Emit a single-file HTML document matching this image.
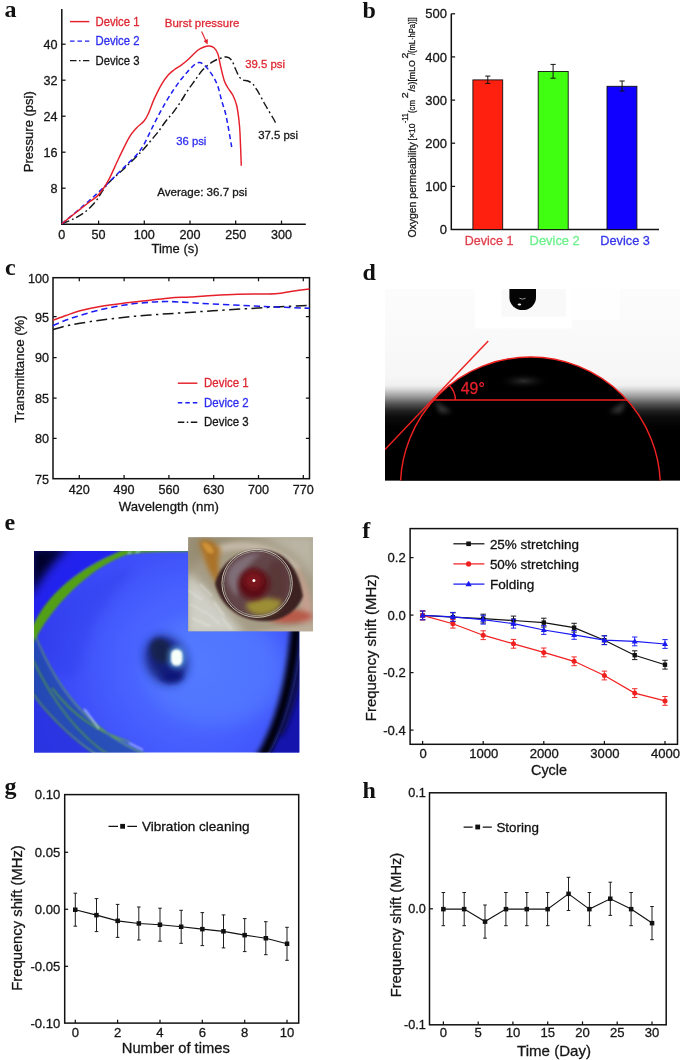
<!DOCTYPE html>
<html lang="en"><head><meta charset="utf-8"><title>Figure</title>
<style>html,body{margin:0;padding:0;background:#fff}svg{display:block}svg text{font-family:"Liberation Sans", sans-serif}svg text.pl{font-family:"Liberation Serif", serif;font-weight:bold;font-size:24px;fill:#111}</style></head><body>
<svg width="685" height="1060" viewBox="0 0 685 1060">
<rect width="685" height="1060" fill="#fff"/>
<defs>
<filter id="b1" x="-20%" y="-20%" width="140%" height="140%"><feGaussianBlur stdDeviation="1"/></filter>
<filter id="b2" x="-30%" y="-30%" width="160%" height="160%"><feGaussianBlur stdDeviation="2.5"/></filter>
<filter id="b4" x="-30%" y="-30%" width="160%" height="160%"><feGaussianBlur stdDeviation="5"/></filter>
<filter id="b8" x="-50%" y="-50%" width="200%" height="200%"><feGaussianBlur stdDeviation="9"/></filter>
<linearGradient id="dgrad" x1="0" y1="0" x2="0" y2="1"><stop offset="0" stop-color="#fcfcfc"/><stop offset="0.3" stop-color="#f9f9f9"/><stop offset="0.46" stop-color="#f6f6f6"/><stop offset="0.503" stop-color="#f0f0f0"/><stop offset="0.522" stop-color="#dadada"/><stop offset="0.563" stop-color="#989898"/><stop offset="0.60" stop-color="#545454"/><stop offset="0.636" stop-color="#222"/><stop offset="0.668" stop-color="#0c0c0c"/><stop offset="0.72" stop-color="#020202"/><stop offset="1" stop-color="#000"/></linearGradient>
<radialGradient id="glow" cx="0.5" cy="0.5" r="0.5"><stop offset="0" stop-color="#2e2e2e"/><stop offset="1" stop-color="#000" stop-opacity="0"/></radialGradient>
<clipPath id="dclip"><rect x="385" y="289" width="295" height="191.5"/></clipPath>
<clipPath id="eclip"><rect x="34" y="551" width="265.3" height="201.6"/></clipPath>
<clipPath id="iclip"><rect x="188.2" y="537.2" width="124.7" height="94"/></clipPath>
<radialGradient id="eyebg" gradientUnits="userSpaceOnUse" cx="195" cy="665" r="175"><stop offset="0" stop-color="#5072ff"/><stop offset="0.4" stop-color="#4862ff"/><stop offset="0.75" stop-color="#3c4cf8"/><stop offset="1" stop-color="#2e36ea"/></radialGradient>
</defs>
<text x="4.5" y="17" class="pl">a</text>
<path d="M61.8,9 V224.2 H305.8" fill="none" stroke="#111" stroke-width="1.5"/>
<path d="M61.8,188.2 h3.8" stroke="#111" stroke-width="1.25"/>
<text x="57.5" y="192.6" font-size="12.6" fill="#161616" stroke="#161616" stroke-width="0.3" text-anchor="end" >8</text>
<path d="M61.8,152.2 h3.8" stroke="#111" stroke-width="1.25"/>
<text x="57.5" y="156.6" font-size="12.6" fill="#161616" stroke="#161616" stroke-width="0.3" text-anchor="end" >16</text>
<path d="M61.8,116.2 h3.8" stroke="#111" stroke-width="1.25"/>
<text x="57.5" y="120.6" font-size="12.6" fill="#161616" stroke="#161616" stroke-width="0.3" text-anchor="end" >24</text>
<path d="M61.8,80.2 h3.8" stroke="#111" stroke-width="1.25"/>
<text x="57.5" y="84.6" font-size="12.6" fill="#161616" stroke="#161616" stroke-width="0.3" text-anchor="end" >32</text>
<path d="M61.8,44.2 h3.8" stroke="#111" stroke-width="1.25"/>
<text x="57.5" y="48.59999999999999" font-size="12.6" fill="#161616" stroke="#161616" stroke-width="0.3" text-anchor="end" >40</text>
<text x="61.8" y="238.8" font-size="12.6" fill="#161616" stroke="#161616" stroke-width="0.3" text-anchor="middle" >0</text>
<path d="M98.6,224.2 v-3.6" stroke="#111" stroke-width="1.25"/>
<text x="98.6" y="238.8" font-size="12.6" fill="#161616" stroke="#161616" stroke-width="0.3" text-anchor="middle" >50</text>
<path d="M144.3,224.2 v-3.6" stroke="#111" stroke-width="1.25"/>
<text x="144.3" y="238.8" font-size="12.6" fill="#161616" stroke="#161616" stroke-width="0.3" text-anchor="middle" >100</text>
<path d="M190.0,224.2 v-3.6" stroke="#111" stroke-width="1.25"/>
<text x="190.0" y="238.8" font-size="12.6" fill="#161616" stroke="#161616" stroke-width="0.3" text-anchor="middle" >200</text>
<path d="M235.7,224.2 v-3.6" stroke="#111" stroke-width="1.25"/>
<text x="235.7" y="238.8" font-size="12.6" fill="#161616" stroke="#161616" stroke-width="0.3" text-anchor="middle" >250</text>
<path d="M281.5,224.2 v-3.6" stroke="#111" stroke-width="1.25"/>
<text x="281.5" y="238.8" font-size="12.6" fill="#161616" stroke="#161616" stroke-width="0.3" text-anchor="middle" >300</text>
<text x="175" y="253" font-size="13.3" fill="#161616" stroke="#161616" stroke-width="0.3" text-anchor="middle" textLength="47" lengthAdjust="spacingAndGlyphs" >Time (s)</text>
<text transform="translate(32.6 131.7) rotate(-90)" font-size="13.3" fill="#161616" stroke="#161616" stroke-width="0.3" text-anchor="middle" textLength="81" lengthAdjust="spacingAndGlyphs">Pressure (psi)</text>
<path d="M61.8,223.8 C63.6,223.0 69.0,221.2 72.9,219.2 C76.8,217.2 81.6,214.6 85.4,211.7 C89.2,208.8 93.0,204.6 95.5,201.7 C98.0,198.8 98.8,196.5 100.5,194.0 C102.2,191.5 103.6,189.0 105.5,186.6 C107.4,184.2 108.5,182.8 111.7,179.7 C114.9,176.6 120.7,171.9 124.8,168.0 C128.9,164.1 133.3,159.6 136.5,156.4 C139.7,153.2 141.4,151.7 143.8,149.0 C146.2,146.3 148.7,143.2 151.1,140.3 C153.5,137.4 156.0,134.7 158.4,131.5 C160.8,128.3 163.3,124.5 165.7,121.3 C168.1,118.1 170.6,115.8 173.0,112.6 C175.4,109.4 177.9,105.9 180.3,102.3 C182.7,98.7 185.2,94.3 187.6,90.7 C190.0,87.1 192.4,83.9 194.9,80.4 C197.4,76.9 199.8,72.9 202.8,69.8 C205.8,66.7 210.0,63.5 212.9,61.6 C215.8,59.7 218.1,59.1 220.4,58.3 C222.7,57.5 224.8,56.7 226.7,57.0 C228.6,57.3 230.2,58.3 231.7,60.3 C233.2,62.3 234.2,66.3 235.5,69.0 C236.8,71.7 237.9,74.8 239.2,76.6 C240.4,78.4 241.5,79.3 243.0,80.0 C244.5,80.7 246.3,80.3 248.0,81.0 C249.7,81.7 251.3,82.4 253.0,84.2 C254.7,86.0 255.9,88.2 258.0,91.7 C260.1,95.2 263.1,101.1 265.6,105.5 C268.1,109.9 271.3,115.1 273.0,118.0 C274.7,120.9 275.2,122.2 275.7,123.0" fill="none" stroke="#161616" stroke-width="1.45" stroke-dasharray="8 3 1.8 3"/>
<path d="M61.8,223.8 C64.1,221.9 71.0,216.2 75.4,212.5 C79.8,208.8 83.8,205.4 88.0,201.7 C92.2,198.0 96.3,194.3 100.5,190.4 C104.7,186.5 109.0,182.2 113.1,178.2 C117.1,174.2 120.9,170.5 124.8,166.6 C128.7,162.7 133.3,158.6 136.5,154.9 C139.7,151.2 141.4,148.8 143.8,144.7 C146.2,140.5 148.7,134.9 151.1,130.0 C153.5,125.1 156.0,120.1 158.4,115.5 C160.8,110.9 163.3,106.4 165.7,102.3 C168.1,98.2 170.6,94.3 173.0,90.7 C175.4,87.1 177.9,83.6 180.3,80.4 C182.7,77.2 185.2,74.4 187.6,71.7 C190.0,69.0 192.9,65.9 194.9,64.4 C196.9,62.9 198.0,62.5 199.5,62.6 C201.0,62.7 202.4,63.5 204.0,64.8 C205.6,66.1 207.3,68.2 209.0,70.4 C210.7,72.6 212.5,75.3 214.0,78.0 C215.5,80.7 216.7,83.0 218.0,86.7 C219.3,90.5 220.4,96.1 221.6,100.5 C222.8,104.9 224.3,108.4 225.4,113.0 C226.5,117.6 227.4,122.3 228.4,128.0 C229.4,133.7 231.1,143.8 231.7,147.0" fill="none" stroke="#1c1cf5" stroke-width="1.5" stroke-dasharray="5 3.2"/>
<path d="M61.8,223.8 C64.1,222.0 71.0,216.5 75.4,213.0 C79.8,209.5 84.5,205.7 88.0,203.0 C91.5,200.3 94.2,198.9 96.7,196.6 C99.2,194.3 101.0,191.8 103.0,189.0 C105.0,186.2 106.1,184.9 108.8,179.7 C111.5,174.5 115.6,164.9 119.0,157.8 C122.4,150.8 126.3,142.4 129.2,137.4 C132.1,132.4 134.1,130.6 136.5,127.9 C138.9,125.2 141.9,123.6 143.8,121.3 C145.8,119.0 146.5,117.7 148.2,114.0 C149.9,110.3 151.8,104.3 154.0,99.4 C156.2,94.5 158.9,88.9 161.3,84.8 C163.7,80.7 166.4,77.1 168.6,74.6 C170.8,72.0 172.6,71.0 174.5,69.5 C176.4,68.0 178.1,67.4 180.3,65.8 C182.5,64.2 184.7,62.6 187.6,60.0 C190.5,57.4 195.1,52.5 197.8,50.3 C200.5,48.1 202.1,47.7 204.0,47.0 C205.9,46.3 207.3,45.9 209.0,46.0 C210.7,46.1 212.5,46.4 214.0,47.7 C215.5,49.0 216.8,51.1 217.9,54.0 C219.0,56.9 219.4,60.9 220.4,65.3 C221.4,69.7 222.9,76.6 224.2,80.4 C225.5,84.2 226.5,85.5 228.0,88.0 C229.5,90.5 231.6,92.6 233.0,95.5 C234.4,98.4 235.8,101.8 236.7,105.5 C237.6,109.2 238.1,113.4 238.7,118.0 C239.2,122.6 239.6,125.0 240.0,133.0 C240.4,140.9 241.1,160.2 241.3,165.7" fill="none" stroke="#e5202b" stroke-width="1.45"/>
<path d="M70,21.6 H89.3" stroke="#e5202b" stroke-width="1.45"/>
<text x="95.5" y="25.8" font-size="11.9" fill="#de2833" stroke="#de2833" stroke-width="0.3" text-anchor="start" textLength="44" lengthAdjust="spacingAndGlyphs" >Device 1</text>
<path d="M70,41.1 H89.3" stroke="#1c1cf5" stroke-width="1.45" stroke-dasharray="4.5 3"/>
<text x="95.5" y="45.300000000000004" font-size="11.9" fill="#2e2ef0" stroke="#2e2ef0" stroke-width="0.3" text-anchor="start" textLength="44" lengthAdjust="spacingAndGlyphs" >Device 2</text>
<path d="M70,60.6 H89.3" stroke="#161616" stroke-width="1.45" stroke-dasharray="6.5 2.5 1.5 2.5"/>
<text x="95.5" y="64.8" font-size="11.9" fill="#161616" stroke="#161616" stroke-width="0.3" text-anchor="start" textLength="44" lengthAdjust="spacingAndGlyphs" >Device 3</text>
<text x="164.8" y="27.2" font-size="11.7" fill="#de2833" stroke="#de2833" stroke-width="0.3" text-anchor="start" textLength="74.6" lengthAdjust="spacingAndGlyphs" >Burst pressure</text>
<path d="M201.6,31.4 L206.6,42.4" stroke="#e5202b" stroke-width="1.1"/>
<path d="M207.6,44.6 L203.6,40.9 L207.9,38.9 Z" fill="#e5202b"/>
<text x="245.2" y="68.4" font-size="11.7" fill="#de2833" stroke="#de2833" stroke-width="0.3" text-anchor="start" textLength="39.8" lengthAdjust="spacingAndGlyphs" >39.5 psi</text>
<text x="176.2" y="144.5" font-size="11.7" fill="#2e2ef0" stroke="#2e2ef0" stroke-width="0.3" text-anchor="start" textLength="30.2" lengthAdjust="spacingAndGlyphs" >36 psi</text>
<text x="258.2" y="139.4" font-size="11.7" fill="#161616" stroke="#161616" stroke-width="0.3" text-anchor="start" textLength="39.8" lengthAdjust="spacingAndGlyphs" >37.5 psi</text>
<text x="157.2" y="196" font-size="11.7" fill="#161616" stroke="#161616" stroke-width="0.3" text-anchor="start" textLength="90" lengthAdjust="spacingAndGlyphs" >Average: 36.7 psi</text>
<text x="362.5" y="18" class="pl">b</text>
<path d="M451.3,13.8 V229.5 H659" fill="none" stroke="#111" stroke-width="1.5"/>
<text x="447" y="234.1" font-size="13" fill="#161616" stroke="#161616" stroke-width="0.3" text-anchor="end" >0</text>
<path d="M451.3,186.4 h3.8" stroke="#111" stroke-width="1.25"/>
<text x="447" y="190.96" font-size="13" fill="#161616" stroke="#161616" stroke-width="0.3" text-anchor="end" >100</text>
<path d="M451.3,143.2 h3.8" stroke="#111" stroke-width="1.25"/>
<text x="447" y="147.82" font-size="13" fill="#161616" stroke="#161616" stroke-width="0.3" text-anchor="end" >200</text>
<path d="M451.3,100.1 h3.8" stroke="#111" stroke-width="1.25"/>
<text x="447" y="104.67999999999998" font-size="13" fill="#161616" stroke="#161616" stroke-width="0.3" text-anchor="end" >300</text>
<path d="M451.3,56.9 h3.8" stroke="#111" stroke-width="1.25"/>
<text x="447" y="61.54" font-size="13" fill="#161616" stroke="#161616" stroke-width="0.3" text-anchor="end" >400</text>
<path d="M451.3,13.8 h3.8" stroke="#111" stroke-width="1.25"/>
<text x="447" y="18.400000000000013" font-size="13" fill="#161616" stroke="#161616" stroke-width="0.3" text-anchor="end" >500</text>
<rect x="472.9" y="79.9" width="29.8" height="149.6" fill="#ff2010" stroke="#111" stroke-width="0.9"/>
<path d="M487.8,76.1 V83.4 M485.2,76.1 h5.2 M485.2,83.4 h5.2" stroke="#111" stroke-width="1" fill="none"/>
<rect x="538.2" y="71.5" width="30.0" height="158.0" fill="#40ff10" stroke="#111" stroke-width="0.9"/>
<path d="M553.1,64.4 V78.2 M550.5,64.4 h5.2 M550.5,78.2 h5.2" stroke="#111" stroke-width="1" fill="none"/>
<rect x="607" y="86.3" width="29.9" height="143.2" fill="#1000ff" stroke="#111" stroke-width="0.9"/>
<path d="M622.1,81 V91 M619.5,81 h5.2 M619.5,91 h5.2" stroke="#111" stroke-width="1" fill="none"/>
<text x="464.8" y="244.9" font-size="13" fill="#e0404c" stroke="#e0404c" stroke-width="0.3" text-anchor="start" textLength="48.6" lengthAdjust="spacingAndGlyphs" >Device 1</text>
<text x="529.6" y="244.9" font-size="13" fill="#6cf08c" stroke="#6cf08c" stroke-width="0.3" text-anchor="start" textLength="50.2" lengthAdjust="spacingAndGlyphs" >Device 2</text>
<text x="600.3" y="244.9" font-size="13" fill="#3636ea" stroke="#3636ea" stroke-width="0.3" text-anchor="start" textLength="49.6" lengthAdjust="spacingAndGlyphs" >Device 3</text>
<text transform="translate(416.2 237.6) rotate(-90)" font-size="10.6" fill="#161616" stroke="#161616" stroke-width="0.25" textLength="95.3" lengthAdjust="spacingAndGlyphs">Oxygen permeability</text>
<text transform="translate(415.4 140.4) rotate(-90)" font-size="8.2" fill="#161616" stroke="#161616" stroke-width="0.25" textLength="17.0" lengthAdjust="spacingAndGlyphs">[×10</text>
<text transform="translate(408.4 123.0) rotate(-90)" font-size="8.2" fill="#161616" stroke="#161616" stroke-width="0.25" textLength="9.6" lengthAdjust="spacingAndGlyphs">-11</text>
<text transform="translate(415.4 113.0) rotate(-90)" font-size="8.2" fill="#161616" stroke="#161616" stroke-width="0.25" textLength="12.8" lengthAdjust="spacingAndGlyphs">(cm</text>
<text transform="translate(408.4 98.2) rotate(-90)" font-size="8.2" fill="#161616" stroke="#161616" stroke-width="0.25" textLength="6.0" lengthAdjust="spacingAndGlyphs">2</text>
<text transform="translate(415.4 91.4) rotate(-90)" font-size="8.2" fill="#161616" stroke="#161616" stroke-width="0.25" textLength="31.4" lengthAdjust="spacingAndGlyphs">/s)[mLO</text>
<text transform="translate(408.4 58.4) rotate(-90)" font-size="8.2" fill="#161616" stroke="#161616" stroke-width="0.25" textLength="5.8" lengthAdjust="spacingAndGlyphs">2</text>
<text transform="translate(415.4 55.0) rotate(-90)" font-size="8.2" fill="#161616" stroke="#161616" stroke-width="0.25" textLength="37.6" lengthAdjust="spacingAndGlyphs">/(mL·hPa)]]</text>
<text x="5" y="275" class="pl">c</text>
<rect x="53" y="277.7" width="256.5" height="201.0" fill="none" stroke="#111" stroke-width="1.5"/>
<text x="49" y="282.7" font-size="12.6" fill="#161616" stroke="#161616" stroke-width="0.3" text-anchor="end" >100</text>
<path d="M53,316.6 h3.6 M309.5,316.6 h-3.6" stroke="#111" stroke-width="1.25"/>
<text x="49" y="321.5" font-size="12.6" fill="#161616" stroke="#161616" stroke-width="0.3" text-anchor="end" >95</text>
<path d="M53,357.5 h3.6 M309.5,357.5 h-3.6" stroke="#111" stroke-width="1.25"/>
<text x="49" y="362.4" font-size="12.6" fill="#161616" stroke="#161616" stroke-width="0.3" text-anchor="end" >90</text>
<path d="M53,398.0 h3.6 M309.5,398.0 h-3.6" stroke="#111" stroke-width="1.25"/>
<text x="49" y="402.9" font-size="12.6" fill="#161616" stroke="#161616" stroke-width="0.3" text-anchor="end" >85</text>
<path d="M53,438.3 h3.6 M309.5,438.3 h-3.6" stroke="#111" stroke-width="1.25"/>
<text x="49" y="443.2" font-size="12.6" fill="#161616" stroke="#161616" stroke-width="0.3" text-anchor="end" >80</text>
<text x="49" y="483.59999999999997" font-size="12.6" fill="#161616" stroke="#161616" stroke-width="0.3" text-anchor="end" >75</text>
<path d="M79.3,478.7 v-3.6 M79.3,277.7 v3.6" stroke="#111" stroke-width="1.25"/>
<text x="79.3" y="494.3" font-size="12.6" fill="#161616" stroke="#161616" stroke-width="0.3" text-anchor="middle" >420</text>
<path d="M124.1,478.7 v-3.6 M124.1,277.7 v3.6" stroke="#111" stroke-width="1.25"/>
<text x="124.1" y="494.3" font-size="12.6" fill="#161616" stroke="#161616" stroke-width="0.3" text-anchor="middle" >490</text>
<path d="M168.9,478.7 v-3.6 M168.9,277.7 v3.6" stroke="#111" stroke-width="1.25"/>
<text x="168.89999999999998" y="494.3" font-size="12.6" fill="#161616" stroke="#161616" stroke-width="0.3" text-anchor="middle" >560</text>
<path d="M213.7,478.7 v-3.6 M213.7,277.7 v3.6" stroke="#111" stroke-width="1.25"/>
<text x="213.7" y="494.3" font-size="12.6" fill="#161616" stroke="#161616" stroke-width="0.3" text-anchor="middle" >630</text>
<path d="M258.5,478.7 v-3.6 M258.5,277.7 v3.6" stroke="#111" stroke-width="1.25"/>
<text x="258.5" y="494.3" font-size="12.6" fill="#161616" stroke="#161616" stroke-width="0.3" text-anchor="middle" >700</text>
<path d="M303.3,478.7 v-3.6 M303.3,277.7 v3.6" stroke="#111" stroke-width="1.25"/>
<text x="303.3" y="494.3" font-size="12.6" fill="#161616" stroke="#161616" stroke-width="0.3" text-anchor="middle" >770</text>
<text x="168.8" y="510.5" font-size="13.4" fill="#161616" stroke="#161616" stroke-width="0.3" text-anchor="middle" textLength="100" lengthAdjust="spacingAndGlyphs" >Wavelength (nm)</text>
<text transform="translate(23.9 369) rotate(-90)" font-size="13.4" fill="#161616" stroke="#161616" stroke-width="0.3" text-anchor="middle" textLength="107.5" lengthAdjust="spacingAndGlyphs">Transmittance (%)</text>
<path d="M53.0,329.6 C55.2,329.0 61.5,327.1 66.0,326.0 C70.5,324.9 74.3,324.3 80.0,323.3 C85.7,322.3 92.5,321.2 100.0,320.2 C107.5,319.2 116.7,318.1 125.0,317.2 C133.3,316.3 141.7,315.6 150.0,315.0 C158.3,314.4 164.5,314.0 175.0,313.3 C185.5,312.6 200.2,311.6 212.8,310.8 C225.4,310.0 240.0,309.1 250.5,308.5 C261.0,307.9 265.8,307.5 275.6,307.0 C285.4,306.5 303.9,305.6 309.5,305.3" fill="none" stroke="#161616" stroke-width="1.5" stroke-dasharray="11 4.4 2.4 4.4"/>
<path d="M53.0,325.7 C55.2,324.8 61.5,321.7 66.0,320.0 C70.5,318.3 74.3,317.2 80.0,315.5 C85.7,313.8 92.5,311.6 100.0,309.8 C107.5,308.1 116.7,306.3 125.0,305.0 C133.3,303.7 142.5,302.8 150.0,302.2 C157.5,301.6 163.3,301.5 170.0,301.6 C176.7,301.7 182.9,302.2 190.0,302.6 C197.1,303.0 202.7,303.5 212.8,304.0 C222.9,304.5 240.0,305.3 250.5,305.8 C261.0,306.3 265.8,306.6 275.6,307.0 C285.4,307.4 303.9,308.1 309.5,308.3" fill="none" stroke="#1c1cf5" stroke-width="1.55" stroke-dasharray="6.4 3.8"/>
<path d="M53.0,320.3 C55.2,319.5 61.5,317.1 66.0,315.5 C70.5,313.9 74.3,312.3 80.0,310.8 C85.7,309.3 92.7,307.8 100.0,306.5 C107.3,305.2 115.3,304.2 123.6,303.2 C131.9,302.2 142.2,301.2 150.0,300.3 C157.8,299.4 163.4,298.4 170.1,297.9 C176.8,297.3 183.1,297.4 190.2,297.0 C197.3,296.6 204.8,295.9 212.8,295.4 C220.8,294.9 229.6,294.4 238.0,294.2 C246.4,294.0 256.3,294.1 263.0,294.0 C269.7,293.9 273.4,293.8 278.0,293.4 C282.6,293.0 285.4,292.1 290.7,291.4 C295.9,290.7 306.4,289.4 309.5,289.0" fill="none" stroke="#e5202b" stroke-width="1.5"/>
<path d="M177.8,383.2 H197.4" stroke="#e5202b" stroke-width="1.45"/>
<text x="204" y="387.4" font-size="12" fill="#de2833" stroke="#de2833" stroke-width="0.3" text-anchor="start" textLength="44.6" lengthAdjust="spacingAndGlyphs" >Device 1</text>
<path d="M177.8,402.7 H197.4" stroke="#1c1cf5" stroke-width="1.45" stroke-dasharray="4.5 3"/>
<text x="204" y="406.9" font-size="12" fill="#2e2ef0" stroke="#2e2ef0" stroke-width="0.3" text-anchor="start" textLength="44.6" lengthAdjust="spacingAndGlyphs" >Device 2</text>
<path d="M177.8,422.2 H197.4" stroke="#161616" stroke-width="1.45" stroke-dasharray="6.5 2.5 1.5 2.5"/>
<text x="204" y="426.4" font-size="12" fill="#161616" stroke="#161616" stroke-width="0.3" text-anchor="start" textLength="44.6" lengthAdjust="spacingAndGlyphs" >Device 3</text>
<text x="362.5" y="279.5" class="pl">d</text>
<g clip-path="url(#dclip)">
<rect x="385" y="289" width="295" height="191.5" fill="url(#dgrad)"/>
<rect x="474.7" y="289" width="97.3" height="39.4" fill="#fff"/>
<rect x="572" y="289" width="48" height="30.7" fill="#fefefe"/>
<rect x="501.5" y="289" width="64.3" height="27.7" fill="#f9f9f9"/>
<circle cx="530.4" cy="487" r="130" fill="#000"/>
<rect x="385" y="430" width="295" height="51" fill="#000"/>
<path d="M434.5,400.5 L452,412 L440,413 Z" fill="#555" filter="url(#b2)" opacity="0.7"/>
<path d="M626.5,400.5 L609,412 L621,413 Z" fill="#555" filter="url(#b2)" opacity="0.7"/>
<ellipse cx="523.5" cy="381" rx="27" ry="8.5" fill="url(#glow)"/>
<path d="M509.4,289 H536 V297.5 A13.3,12.6 0 0 1 509.4,297.5 Z" fill="#050505"/>
<path d="M519.5,298.2 q3,2 6,0" stroke="#bbb" stroke-width="0.8" fill="none"/>
<ellipse cx="519.4" cy="304.6" rx="1.8" ry="1" fill="#eee"/>
<circle cx="530.4" cy="487" r="130" fill="none" stroke="#ee2020" stroke-width="1.45"/>
<path d="M434.2,400 H627" stroke="#ee2020" stroke-width="1.45"/>
<path d="M385,449.5 L488.2,341" stroke="#ee2020" stroke-width="1.45"/>
<path d="M455.4,400 A21.2,21.2 0 0 0 448.8,384.7" fill="none" stroke="#ee2020" stroke-width="1.45"/>
</g>
<text x="460.8" y="393.8" font-size="16" fill="#e8212b" stroke="#e8212b" stroke-width="0.3" text-anchor="start" textLength="24" lengthAdjust="spacingAndGlyphs" >49°</text>
<text x="4.4" y="530.3" class="pl">e</text>
<g clip-path="url(#eclip)">
<rect x="30" y="547" width="274" height="210" fill="url(#eyebg)"/>
<ellipse cx="215" cy="670" rx="70" ry="55" fill="#5682ff" opacity="0.55" filter="url(#b8)"/>
<path d="M40,640 C60,600 95,575 135,566 C120,590 95,610 85,650 C75,690 60,690 40,640 Z" fill="#2c38e4" opacity="0.32" filter="url(#b4)"/>
<path d="M30,547 H196 C160,546 135,548 121,552 C80,564 50,592 30,640 Z" fill="#2222ee" filter="url(#b1)"/>
<path d="M30,547 H70 Q50,562 30,598 Z" fill="#04042c" filter="url(#b4)"/>
<path d="M32,628 C44,600 70,572 123,550 L194,548 L194,551.6 C165,551.2 142,551.8 127,554.6 C96,565 58,598 36.5,637 L32,646 Z" fill="#52a016" filter="url(#b1)"/>
<path d="M128,554 l3,-2.5 M136,552.5 l4,-2" stroke="#9ad8ff" stroke-width="1.6" filter="url(#b1)"/>
<path d="M306,585 C303,660 292,722 264,762 L306,762 Z" fill="#1515ae"/>
<path d="M297.5,590 C297,655 287,716 260,760" fill="none" stroke="#03030f" stroke-width="11" filter="url(#b2)"/>
<path d="M306,600 C304,660 296,700 280,735" fill="none" stroke="#0a0a40" stroke-width="7" filter="url(#b2)" opacity="0.8"/>
<path d="M30,628 C58,700 98,738 152,758 L104,758 C64,734 46,708 30,694 Z" fill="#1f4f90" opacity="0.62" filter="url(#b1)"/>
<path d="M30,690 C50,715 75,742 100,758 L30,758 Z" fill="#2a34e0" opacity="0.9"/>
<path d="M34,632 C60,700 100,737 152,757 M33,660 C58,712 84,740 112,757 M33,694 C52,720 78,744 102,758 M52,688 C70,712 96,732 130,742" fill="none" stroke="#60b028" stroke-width="1.3" opacity="0.85" filter="url(#b1)"/>
<path d="M84,709 C90,716 94,722 99,729 M129,743 l14,7" stroke="#eaf6ff" stroke-width="1.2" fill="none" filter="url(#b1)" opacity="0.85"/>
<ellipse cx="166" cy="660" rx="20" ry="25" fill="#17227c" filter="url(#b4)" transform="rotate(-25 166 660)"/>
<ellipse cx="161" cy="651" rx="10" ry="13" fill="#14204e" filter="url(#b2)" transform="rotate(-25 161 651)"/>
<ellipse cx="172" cy="676" rx="11" ry="6" fill="#10167a" filter="url(#b2)"/>
<rect x="168" y="646" width="17.4" height="23" rx="8.5" fill="#6cc4ff" opacity="0.55" filter="url(#b2)"/>
<rect x="171" y="649.2" width="11.4" height="16.6" rx="5.6" fill="#f6fffa" filter="url(#b1)"/>
</g>
<g clip-path="url(#iclip)">
<rect x="186" y="535" width="129" height="99" fill="#a59c86"/>
<path d="M186,572 C205,584 222,608 246,636 L186,636 Z" fill="#cfcfc6" filter="url(#b4)"/>
<path d="M186,535 H262 C235,540 205,550 186,572 Z" fill="#968c72" filter="url(#b4)"/>
<path d="M258,535 H315 V582 C305,560 285,545 258,535 Z" fill="#bab5a4" filter="url(#b4)"/>
<path d="M240,636 C270,627 295,628 315,622 V636 Z" fill="#bcae9a" filter="url(#b2)"/>
<path d="M188,590 l14,10 M190,604 l16,9 M192,618 l18,8 M200,584 l12,12 M206,612 l14,12 M214,602 l10,14 M222,618 l10,12" stroke="#e6e6de" stroke-width="1.4" opacity="0.7" filter="url(#b1)"/>
<path d="M206,556 C226,541 270,540 298,570" fill="none" stroke="#c6bcaa" stroke-width="7" filter="url(#b2)"/>
<path d="M199,541 C207,537 216,542 221,550 C217,560 218,572 223,590 C212,580 203,560 199,541 Z" fill="#aa7228" filter="url(#b2)"/>
<path d="M202,543 C206,541 212,545 214,552 C210,556 205,552 202,543 Z" fill="#cf9238" filter="url(#b1)"/>
<path d="M295,562 C308,583 313,603 313,622 L300,624 C302,600 300,583 295,562 Z" fill="#c49f8e" filter="url(#b2)"/>
<path d="M274,612 C290,607 304,609 314,616 C304,624 288,625 270,621 Z" fill="#b85a4a" filter="url(#b2)"/>
<path d="M215,584 C221,559 245,548 265,550 C286,552 299,569 303,596 C297,613 280,622 262,621 C240,620 221,607 215,584 Z" fill="#3e2422" filter="url(#b1)"/>
<circle cx="257" cy="583.4" r="33.5" fill="#624448" filter="url(#b1)"/>
<path d="M227,576 C231,560 248,552 263,553 C250,560 240,575 238,597 C231,591 227,584 227,576 Z" fill="#857680" opacity="0.85" filter="url(#b2)"/>
<ellipse cx="277" cy="582" rx="11" ry="22" fill="#583636" opacity="0.8" filter="url(#b2)"/>
<path d="M246,604 C256,597 272,597 282,601 C280,610 270,616 258,615 C250,613 246,609 246,604 Z" fill="#9c8e34" filter="url(#b2)"/>
<circle cx="253.8" cy="584" r="15.5" fill="#5c0e12" filter="url(#b2)"/>
<circle cx="253.5" cy="580.5" r="9" fill="#7c151b" filter="url(#b2)"/>
<ellipse cx="257.1" cy="583.4" rx="35.2" ry="34" fill="none" stroke="#cfcfc2" stroke-width="0.9"/>
<ellipse cx="257.1" cy="583.4" rx="33.4" ry="32.3" fill="none" stroke="#b4b4a6" stroke-width="0.7"/>
<circle cx="253.9" cy="580.6" r="1.5" fill="#fff"/>
</g>
<text x="362.3" y="538.3" class="pl">f</text>
<rect x="410.1" y="528.6" width="267.4" height="215.7" fill="none" stroke="#111" stroke-width="1.5"/>
<path d="M410.1,557.6 h3.4" stroke="#111" stroke-width="1.25"/>
<text x="405.7" y="562.3000000000001" font-size="13.1" fill="#161616" stroke="#161616" stroke-width="0.3" text-anchor="end" >0.2</text>
<path d="M410.1,615.1 h3.4" stroke="#111" stroke-width="1.25"/>
<text x="405.7" y="619.8000000000001" font-size="13.1" fill="#161616" stroke="#161616" stroke-width="0.3" text-anchor="end" >0.0</text>
<path d="M410.1,672.6 h3.4" stroke="#111" stroke-width="1.25"/>
<text x="405.7" y="677.3000000000001" font-size="13.1" fill="#161616" stroke="#161616" stroke-width="0.3" text-anchor="end" >-0.2</text>
<path d="M410.1,730.1 h3.4" stroke="#111" stroke-width="1.25"/>
<text x="405.7" y="734.8000000000001" font-size="13.1" fill="#161616" stroke="#161616" stroke-width="0.3" text-anchor="end" >-0.4</text>
<path d="M422.6,744.3 v-3.4" stroke="#111" stroke-width="1.25"/>
<text x="423.1" y="757.8" font-size="13.1" fill="#161616" stroke="#161616" stroke-width="0.3" text-anchor="middle" >0</text>
<path d="M483.2,744.3 v-3.4" stroke="#111" stroke-width="1.25"/>
<text x="483.70000000000005" y="757.8" font-size="13.1" fill="#161616" stroke="#161616" stroke-width="0.3" text-anchor="middle" >1000</text>
<path d="M543.8,744.3 v-3.4" stroke="#111" stroke-width="1.25"/>
<text x="544.3000000000001" y="757.8" font-size="13.1" fill="#161616" stroke="#161616" stroke-width="0.3" text-anchor="middle" >2000</text>
<path d="M604.4,744.3 v-3.4" stroke="#111" stroke-width="1.25"/>
<text x="604.9000000000001" y="757.8" font-size="13.1" fill="#161616" stroke="#161616" stroke-width="0.3" text-anchor="middle" >3000</text>
<path d="M665.0,744.3 v-3.4" stroke="#111" stroke-width="1.25"/>
<text x="665.5" y="757.8" font-size="13.1" fill="#161616" stroke="#161616" stroke-width="0.3" text-anchor="middle" >4000</text>
<text x="549" y="775.3" font-size="15" fill="#161616" stroke="#161616" stroke-width="0.3" text-anchor="middle" textLength="36" lengthAdjust="spacingAndGlyphs" >Cycle</text>
<text transform="translate(376.3 647.7) rotate(-90)" font-size="15" fill="#161616" stroke="#161616" stroke-width="0.3" text-anchor="middle" textLength="147" lengthAdjust="spacingAndGlyphs">Frequency shift (MHz)</text>
<path d="M422.6,615.4 L452.9,617.2 L483.2,618.6 L513.5,620.5 L543.8,622.6 L574.1,627.7 L604.4,640.2 L634.7,655.2 L665.0,664.7" fill="none" stroke="#111" stroke-width="1.2"/>
<path d="M422.6,611.0 V619.8 M419.9,611.0 h5.4 M419.9,619.8 h5.4 M452.9,612.8 V621.6 M450.2,612.8 h5.4 M450.2,621.6 h5.4 M483.2,614.2 V623.0 M480.5,614.2 h5.4 M480.5,623.0 h5.4 M513.5,616.1 V624.9 M510.8,616.1 h5.4 M510.8,624.9 h5.4 M543.8,618.2 V627.0 M541.1,618.2 h5.4 M541.1,627.0 h5.4 M574.1,623.3 V632.1 M571.4,623.3 h5.4 M571.4,632.1 h5.4 M604.4,635.8 V644.6 M601.7,635.8 h5.4 M601.7,644.6 h5.4 M634.7,650.8 V659.6 M632.0,650.8 h5.4 M632.0,659.6 h5.4 M665.0,660.3 V669.1 M662.3,660.3 h5.4 M662.3,669.1 h5.4 " fill="none" stroke="#111" stroke-width="0.95"/>
<rect x="420.4" y="613.2" width="4.4" height="4.4" fill="#111"/>
<rect x="450.7" y="615.0" width="4.4" height="4.4" fill="#111"/>
<rect x="481.0" y="616.4" width="4.4" height="4.4" fill="#111"/>
<rect x="511.3" y="618.3" width="4.4" height="4.4" fill="#111"/>
<rect x="541.6" y="620.4" width="4.4" height="4.4" fill="#111"/>
<rect x="571.9" y="625.5" width="4.4" height="4.4" fill="#111"/>
<rect x="602.2" y="638.0" width="4.4" height="4.4" fill="#111"/>
<rect x="632.5" y="653.0" width="4.4" height="4.4" fill="#111"/>
<rect x="662.8" y="662.5" width="4.4" height="4.4" fill="#111"/>
<path d="M422.6,615.4 L452.9,623.7 L483.2,635.2 L513.5,643.8 L543.8,652.4 L574.1,661.3 L604.4,675.5 L634.7,693.1 L665.0,700.9" fill="none" stroke="#f02020" stroke-width="1.2"/>
<path d="M422.6,611.0 V619.8 M419.9,611.0 h5.4 M419.9,619.8 h5.4 M452.9,619.3 V628.1 M450.2,619.3 h5.4 M450.2,628.1 h5.4 M483.2,630.8 V639.6 M480.5,630.8 h5.4 M480.5,639.6 h5.4 M513.5,639.4 V648.2 M510.8,639.4 h5.4 M510.8,648.2 h5.4 M543.8,648.0 V656.8 M541.1,648.0 h5.4 M541.1,656.8 h5.4 M574.1,656.9 V665.7 M571.4,656.9 h5.4 M571.4,665.7 h5.4 M604.4,671.1 V679.9 M601.7,671.1 h5.4 M601.7,679.9 h5.4 M634.7,688.7 V697.5 M632.0,688.7 h5.4 M632.0,697.5 h5.4 M665.0,696.5 V705.3 M662.3,696.5 h5.4 M662.3,705.3 h5.4 " fill="none" stroke="#f02020" stroke-width="0.95"/>
<circle cx="422.6" cy="615.4" r="2.5" fill="#f02020"/>
<circle cx="452.9" cy="623.7" r="2.5" fill="#f02020"/>
<circle cx="483.2" cy="635.2" r="2.5" fill="#f02020"/>
<circle cx="513.5" cy="643.8" r="2.5" fill="#f02020"/>
<circle cx="543.8" cy="652.4" r="2.5" fill="#f02020"/>
<circle cx="574.1" cy="661.3" r="2.5" fill="#f02020"/>
<circle cx="604.4" cy="675.5" r="2.5" fill="#f02020"/>
<circle cx="634.7" cy="693.1" r="2.5" fill="#f02020"/>
<circle cx="665.0" cy="700.9" r="2.5" fill="#f02020"/>
<path d="M422.6,615.4 L452.9,616.8 L483.2,619.7 L513.5,623.7 L543.8,630.0 L574.1,634.9 L604.4,640.2 L634.7,641.4 L665.0,644.0" fill="none" stroke="#1818f0" stroke-width="1.2"/>
<path d="M422.6,611.0 V619.8 M419.9,611.0 h5.4 M419.9,619.8 h5.4 M452.9,612.4 V621.2 M450.2,612.4 h5.4 M450.2,621.2 h5.4 M483.2,615.3 V624.1 M480.5,615.3 h5.4 M480.5,624.1 h5.4 M513.5,619.3 V628.1 M510.8,619.3 h5.4 M510.8,628.1 h5.4 M543.8,625.6 V634.4 M541.1,625.6 h5.4 M541.1,634.4 h5.4 M574.1,630.5 V639.3 M571.4,630.5 h5.4 M571.4,639.3 h5.4 M604.4,635.8 V644.6 M601.7,635.8 h5.4 M601.7,644.6 h5.4 M634.7,637.0 V645.8 M632.0,637.0 h5.4 M632.0,645.8 h5.4 M665.0,639.6 V648.4 M662.3,639.6 h5.4 M662.3,648.4 h5.4 " fill="none" stroke="#1818f0" stroke-width="0.95"/>
<path d="M422.6,612.2 L425.6,617.4 L419.6,617.4 Z" fill="#1818f0"/>
<path d="M452.9,613.6 L455.9,618.8 L449.9,618.8 Z" fill="#1818f0"/>
<path d="M483.2,616.5 L486.2,621.7 L480.2,621.7 Z" fill="#1818f0"/>
<path d="M513.5,620.5 L516.5,625.7 L510.5,625.7 Z" fill="#1818f0"/>
<path d="M543.8,626.8 L546.8,632.0 L540.8,632.0 Z" fill="#1818f0"/>
<path d="M574.1,631.7 L577.1,636.9 L571.1,636.9 Z" fill="#1818f0"/>
<path d="M604.4,637.0 L607.4,642.2 L601.4,642.2 Z" fill="#1818f0"/>
<path d="M634.7,638.2 L637.7,643.4 L631.7,643.4 Z" fill="#1818f0"/>
<path d="M665.0,640.8 L668.0,646.0 L662.0,646.0 Z" fill="#1818f0"/>
<path d="M453.4,543.8 H484.4" stroke="#111" stroke-width="1.25"/>
<rect x="466.3" y="541.5" width="4.6" height="4.6" fill="#111"/>
<text x="489.9" y="549.0" font-size="13.5" fill="#111" stroke="#111" stroke-width="0.3" text-anchor="start" textLength="89" lengthAdjust="spacingAndGlyphs" >25% stretching</text>
<path d="M453.4,563.9 H484.4" stroke="#f02020" stroke-width="1.25"/>
<circle cx="468.6" cy="563.9" r="2.5999999999999996" fill="#f02020"/>
<text x="489.9" y="569.15" font-size="13.5" fill="#111" stroke="#111" stroke-width="0.3" text-anchor="start" textLength="89" lengthAdjust="spacingAndGlyphs" >50% stretching</text>
<path d="M453.4,584.1 H484.4" stroke="#1818f0" stroke-width="1.25"/>
<path d="M468.6,580.8 L471.7,586.2 L465.5,586.2 Z" fill="#1818f0"/>
<text x="489.9" y="589.3" font-size="13.5" fill="#111" stroke="#111" stroke-width="0.3" text-anchor="start" textLength="44.5" lengthAdjust="spacingAndGlyphs" >Folding</text>
<text x="4.5" y="794" class="pl">g</text>
<rect x="64.7" y="794.6" width="234.0" height="228.5" fill="none" stroke="#111" stroke-width="1.5"/>
<text x="60.3" y="799.3000000000001" font-size="13.1" fill="#161616" stroke="#161616" stroke-width="0.3" text-anchor="end" >0.10</text>
<path d="M64.7,852.3 h3.4" stroke="#111" stroke-width="1.25"/>
<text x="60.3" y="857.0" font-size="13.1" fill="#161616" stroke="#161616" stroke-width="0.3" text-anchor="end" >0.05</text>
<path d="M64.7,909.3 h3.4" stroke="#111" stroke-width="1.25"/>
<text x="60.3" y="914.0" font-size="13.1" fill="#161616" stroke="#161616" stroke-width="0.3" text-anchor="end" >0.00</text>
<path d="M64.7,966.3 h3.4" stroke="#111" stroke-width="1.25"/>
<text x="60.3" y="971.0" font-size="13.1" fill="#161616" stroke="#161616" stroke-width="0.3" text-anchor="end" >-0.05</text>
<text x="60.3" y="1027.8" font-size="13.1" fill="#161616" stroke="#161616" stroke-width="0.3" text-anchor="end" >-0.10</text>
<path d="M75.3,1023.1 v-3.4" stroke="#111" stroke-width="1.25"/>
<text x="75.3" y="1036.7" font-size="13.1" fill="#161616" stroke="#161616" stroke-width="0.3" text-anchor="middle" >0</text>
<path d="M117.6,1023.1 v-3.4" stroke="#111" stroke-width="1.25"/>
<text x="117.64" y="1036.7" font-size="13.1" fill="#161616" stroke="#161616" stroke-width="0.3" text-anchor="middle" >2</text>
<path d="M160.0,1023.1 v-3.4" stroke="#111" stroke-width="1.25"/>
<text x="159.98000000000002" y="1036.7" font-size="13.1" fill="#161616" stroke="#161616" stroke-width="0.3" text-anchor="middle" >4</text>
<path d="M202.3,1023.1 v-3.4" stroke="#111" stroke-width="1.25"/>
<text x="202.32" y="1036.7" font-size="13.1" fill="#161616" stroke="#161616" stroke-width="0.3" text-anchor="middle" >6</text>
<path d="M244.7,1023.1 v-3.4" stroke="#111" stroke-width="1.25"/>
<text x="244.66000000000003" y="1036.7" font-size="13.1" fill="#161616" stroke="#161616" stroke-width="0.3" text-anchor="middle" >8</text>
<path d="M287.0,1023.1 v-3.4" stroke="#111" stroke-width="1.25"/>
<text x="287.0" y="1036.7" font-size="13.1" fill="#161616" stroke="#161616" stroke-width="0.3" text-anchor="middle" >10</text>
<text x="175.8" y="1053" font-size="15" fill="#161616" stroke="#161616" stroke-width="0.3" text-anchor="middle" textLength="108" lengthAdjust="spacingAndGlyphs" >Number of times</text>
<text transform="translate(21.7 918) rotate(-90)" font-size="15" fill="#161616" stroke="#161616" stroke-width="0.3" text-anchor="middle" textLength="145.5" lengthAdjust="spacingAndGlyphs">Frequency shift (MHz)</text>
<path d="M75.3,909.7 L96.5,915.1 L117.6,920.9 L138.8,923.5 L160.0,924.7 L181.2,926.8 L202.3,929.1 L223.5,931.4 L244.7,935.1 L265.8,938.2 L287.0,943.8" fill="none" stroke="#111" stroke-width="1.15"/>
<path d="M75.3,893.2 V926.2 M73.5,893.2 h3.6 M73.5,926.2 h3.6 M96.5,898.6 V931.6 M94.7,898.6 h3.6 M94.7,931.6 h3.6 M117.6,904.4 V937.4 M115.8,904.4 h3.6 M115.8,937.4 h3.6 M138.8,907.0 V940.0 M137.0,907.0 h3.6 M137.0,940.0 h3.6 M160.0,908.2 V941.2 M158.2,908.2 h3.6 M158.2,941.2 h3.6 M181.2,910.3 V943.3 M179.3,910.3 h3.6 M179.3,943.3 h3.6 M202.3,912.6 V945.6 M200.5,912.6 h3.6 M200.5,945.6 h3.6 M223.5,914.9 V947.9 M221.7,914.9 h3.6 M221.7,947.9 h3.6 M244.7,918.6 V951.6 M242.9,918.6 h3.6 M242.9,951.6 h3.6 M265.8,921.7 V954.7 M264.0,921.7 h3.6 M264.0,954.7 h3.6 M287.0,927.3 V960.3 M285.2,927.3 h3.6 M285.2,960.3 h3.6 " fill="none" stroke="#111" stroke-width="0.95"/>
<rect x="73.0" y="907.5" width="4.5" height="4.5" fill="#111"/>
<rect x="94.2" y="912.9" width="4.5" height="4.5" fill="#111"/>
<rect x="115.4" y="918.6" width="4.5" height="4.5" fill="#111"/>
<rect x="136.6" y="921.2" width="4.5" height="4.5" fill="#111"/>
<rect x="157.7" y="922.5" width="4.5" height="4.5" fill="#111"/>
<rect x="178.9" y="924.5" width="4.5" height="4.5" fill="#111"/>
<rect x="200.1" y="926.9" width="4.5" height="4.5" fill="#111"/>
<rect x="221.2" y="929.1" width="4.5" height="4.5" fill="#111"/>
<rect x="242.4" y="932.9" width="4.5" height="4.5" fill="#111"/>
<rect x="263.6" y="936.0" width="4.5" height="4.5" fill="#111"/>
<rect x="284.8" y="941.5" width="4.5" height="4.5" fill="#111"/>
<path d="M108.5,826.4 H118 M127.4,826.4 H137" stroke="#111" stroke-width="1.3"/>
<rect x="120.2" y="823.9" width="4.8" height="4.8" fill="#111"/>
<text x="142" y="831.3" font-size="13.5" fill="#111" stroke="#111" stroke-width="0.3" text-anchor="start" textLength="107.5" lengthAdjust="spacingAndGlyphs" >Vibration cleaning</text>
<text x="362.5" y="798" class="pl">h</text>
<rect x="429.5" y="792.8" width="236.7" height="232.0" fill="none" stroke="#111" stroke-width="1.5"/>
<text x="425.8" y="797.4" font-size="12.7" fill="#161616" stroke="#161616" stroke-width="0.3" text-anchor="end" >0.1</text>
<path d="M429.5,908.8 h3.4" stroke="#111" stroke-width="1.25"/>
<text x="425.8" y="913.4" font-size="12.7" fill="#161616" stroke="#161616" stroke-width="0.3" text-anchor="end" >0.0</text>
<text x="425.8" y="1029.3999999999999" font-size="12.7" fill="#161616" stroke="#161616" stroke-width="0.3" text-anchor="end" >-0.1</text>
<path d="M443.4,1024.8 v-3.4" stroke="#111" stroke-width="1.25"/>
<text x="443.4" y="1037.3" font-size="13.1" fill="#161616" stroke="#161616" stroke-width="0.3" text-anchor="middle" >0</text>
<path d="M478.2,1024.8 v-3.4" stroke="#111" stroke-width="1.25"/>
<text x="478.16999999999996" y="1037.3" font-size="13.1" fill="#161616" stroke="#161616" stroke-width="0.3" text-anchor="middle" >5</text>
<path d="M512.9,1024.8 v-3.4" stroke="#111" stroke-width="1.25"/>
<text x="512.9399999999999" y="1037.3" font-size="13.1" fill="#161616" stroke="#161616" stroke-width="0.3" text-anchor="middle" >10</text>
<path d="M547.7,1024.8 v-3.4" stroke="#111" stroke-width="1.25"/>
<text x="547.71" y="1037.3" font-size="13.1" fill="#161616" stroke="#161616" stroke-width="0.3" text-anchor="middle" >15</text>
<path d="M582.5,1024.8 v-3.4" stroke="#111" stroke-width="1.25"/>
<text x="582.48" y="1037.3" font-size="13.1" fill="#161616" stroke="#161616" stroke-width="0.3" text-anchor="middle" >20</text>
<path d="M617.2,1024.8 v-3.4" stroke="#111" stroke-width="1.25"/>
<text x="617.25" y="1037.3" font-size="13.1" fill="#161616" stroke="#161616" stroke-width="0.3" text-anchor="middle" >25</text>
<path d="M652.0,1024.8 v-3.4" stroke="#111" stroke-width="1.25"/>
<text x="652.02" y="1037.3" font-size="13.1" fill="#161616" stroke="#161616" stroke-width="0.3" text-anchor="middle" >30</text>
<text x="554" y="1056" font-size="15" fill="#161616" stroke="#161616" stroke-width="0.3" text-anchor="middle" textLength="74" lengthAdjust="spacingAndGlyphs" >Time (Day)</text>
<text transform="translate(401 925) rotate(-90)" font-size="15" fill="#161616" stroke="#161616" stroke-width="0.3" text-anchor="middle" textLength="144.5" lengthAdjust="spacingAndGlyphs">Frequency shift (MHz)</text>
<path d="M443.3,909.1 L464.2,909.1 L485.0,921.6 L505.9,909.1 L526.8,909.1 L547.6,909.1 L568.5,893.9 L589.4,909.1 L610.3,898.8 L631.1,909.1 L652.0,923.1" fill="none" stroke="#111" stroke-width="1.15"/>
<path d="M443.3,892.5 V925.7 M441.5,892.5 h3.6 M441.5,925.7 h3.6 M464.2,892.5 V925.7 M462.4,892.5 h3.6 M462.4,925.7 h3.6 M485.0,905.0 V938.2 M483.2,905.0 h3.6 M483.2,938.2 h3.6 M505.9,892.5 V925.7 M504.1,892.5 h3.6 M504.1,925.7 h3.6 M526.8,892.5 V925.7 M525.0,892.5 h3.6 M525.0,925.7 h3.6 M547.6,892.5 V925.7 M545.9,892.5 h3.6 M545.9,925.7 h3.6 M568.5,877.3 V910.5 M566.7,877.3 h3.6 M566.7,910.5 h3.6 M589.4,892.5 V925.7 M587.6,892.5 h3.6 M587.6,925.7 h3.6 M610.3,882.2 V915.4 M608.5,882.2 h3.6 M608.5,915.4 h3.6 M631.1,892.5 V925.7 M629.3,892.5 h3.6 M629.3,925.7 h3.6 M652.0,906.5 V939.7 M650.2,906.5 h3.6 M650.2,939.7 h3.6 " fill="none" stroke="#111" stroke-width="0.95"/>
<rect x="441.1" y="906.9" width="4.5" height="4.5" fill="#111"/>
<rect x="461.9" y="906.9" width="4.5" height="4.5" fill="#111"/>
<rect x="482.8" y="919.4" width="4.5" height="4.5" fill="#111"/>
<rect x="503.7" y="906.9" width="4.5" height="4.5" fill="#111"/>
<rect x="524.5" y="906.9" width="4.5" height="4.5" fill="#111"/>
<rect x="545.4" y="906.9" width="4.5" height="4.5" fill="#111"/>
<rect x="566.3" y="891.6" width="4.5" height="4.5" fill="#111"/>
<rect x="587.1" y="906.9" width="4.5" height="4.5" fill="#111"/>
<rect x="608.0" y="896.5" width="4.5" height="4.5" fill="#111"/>
<rect x="628.9" y="906.9" width="4.5" height="4.5" fill="#111"/>
<rect x="649.8" y="920.9" width="4.5" height="4.5" fill="#111"/>
<path d="M463.6,827.1 H472.7 M482.7,827.1 H491.8" stroke="#111" stroke-width="1.3"/>
<rect x="475.3" y="824.6" width="4.8" height="4.8" fill="#111"/>
<text x="496.4" y="832" font-size="13.5" fill="#111" stroke="#111" stroke-width="0.3" text-anchor="start" textLength="42.5" lengthAdjust="spacingAndGlyphs" >Storing</text>
</svg></body></html>
